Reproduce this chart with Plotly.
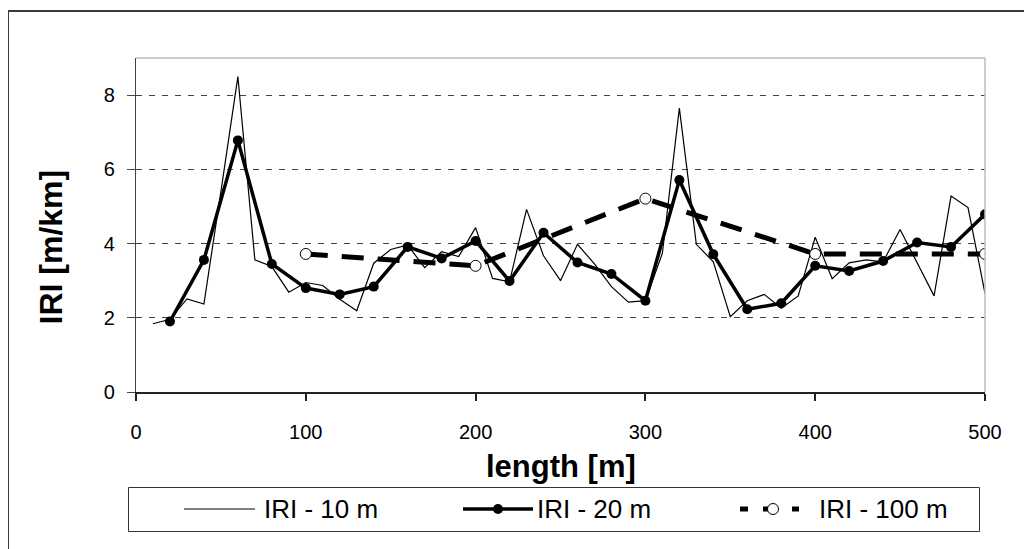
import plotly.graph_objects as go

# ---------------- data ----------------
dist_10 = list(range(10, 510, 10))
iri_10 = [1.84, 1.96, 2.51, 2.37, 5.40, 8.50, 3.56, 3.38, 2.69, 2.95,
          2.87, 2.50, 2.19, 3.47, 3.84, 3.96, 3.35, 3.78, 3.65, 4.43,
          3.06, 2.97, 4.92, 3.67, 3.00, 3.98, 3.45, 2.84, 2.42, 2.46,
          3.74, 7.65, 3.98, 3.51, 2.03, 2.46, 2.63, 2.26, 2.59, 4.17,
          3.05, 3.48, 3.56, 3.51, 4.38, 3.50, 2.59, 5.28, 4.97, 2.66]

dist_20 = list(range(20, 520, 20))
iri_20 = [1.90, 3.56, 6.78, 3.45, 2.80, 2.63, 2.84, 3.91, 3.60, 4.07,
          2.99, 4.29, 3.49, 3.18, 2.46, 5.71, 3.71, 2.23, 2.39, 3.40,
          3.26, 3.53, 4.03, 3.91, 4.79]

dist_100 = [100, 200, 300, 400, 500]
iri_100 = [3.72, 3.40, 5.21, 3.72, 3.72]

series_names = ["IRI - 10 m", "IRI - 20 m", "IRI - 100 m"]
x_ticks = [0, 100, 200, 300, 400, 500]
y_ticks = [0, 2, 4, 6, 8]
x_title = "length [m]"
y_title = "IRI [m/km]"

FONT = "Liberation Sans, Arial, Helvetica, sans-serif"

# ---------------- geometry ----------------
# the page body adds an 8px offset; screen coords below are those of the window
OFF = 8
FIG_W, FIG_H = 1032 - OFF, 549 - OFF
SL, ST, W, H = 136, 58, 849, 334          # plot area in screen pixels
L, T = SL - OFF, ST - OFF                 # plot area in figure pixels


def px(x):
    return (x - SL) / W


def py(y):
    return (ST + H - y) / H


fig = go.Figure()

fig.add_trace(go.Scatter(x=dist_10, y=iri_10, mode="lines", name=series_names[0],
                         line=dict(color="black", width=1.2), showlegend=False))
fig.add_trace(go.Scatter(x=dist_20, y=iri_20, mode="lines+markers", name=series_names[1],
                         line=dict(color="black", width=3.5),
                         marker=dict(color="black", size=10, symbol="circle"),
                         showlegend=False))
fig.add_trace(go.Scatter(x=dist_100, y=iri_100, mode="lines+markers", name=series_names[2],
                         line=dict(color="black", width=5, dash="22px,14px"),
                         marker=dict(color="white", size=11, symbol="circle",
                                     line=dict(color="black", width=1)),
                         showlegend=False))

shapes = []
# outer chart-area border (top and left visible only)
shapes.append(dict(type="line", xref="paper", yref="paper",
                   x0=px(8), x1=px(1045), y0=py(11), y1=py(11),
                   line=dict(color="#3a3a3a", width=2)))
shapes.append(dict(type="line", xref="paper", yref="paper",
                   x0=px(8), x1=px(8), y0=py(11), y1=py(560),
                   line=dict(color="#3a3a3a", width=2)))
# plot-area light border (top and right)
shapes.append(dict(type="line", xref="paper", yref="paper",
                   x0=0, x1=1, y0=1, y1=1,
                   line=dict(color="#bdbdbd", width=1.5)))
shapes.append(dict(type="line", xref="paper", yref="paper",
                   x0=1, x1=1, y0=0, y1=1,
                   line=dict(color="#bdbdbd", width=1.5)))

# custom legend
LEG_Y = 509
shapes.append(dict(type="rect", xref="paper", yref="paper",
                   x0=px(128.5), x1=px(979.5), y0=py(531.5), y1=py(487.5),
                   line=dict(color="#333333", width=1)))
shapes.append(dict(type="line", xref="paper", yref="paper",
                   x0=px(184), x1=px(255), y0=py(LEG_Y), y1=py(LEG_Y),
                   line=dict(color="black", width=1.2)))
shapes.append(dict(type="line", xref="paper", yref="paper",
                   x0=px(463), x1=px(533), y0=py(LEG_Y), y1=py(LEG_Y),
                   line=dict(color="black", width=3.5)))
shapes.append(dict(type="circle", xref="paper", yref="paper",
                   xsizemode="pixel", ysizemode="pixel",
                   xanchor=px(498), yanchor=py(LEG_Y),
                   x0=-5, x1=5, y0=-5, y1=5,
                   fillcolor="black", line=dict(color="black", width=0)))
for a, b in [(740, 748), (763, 768), (792, 799)]:
    shapes.append(dict(type="line", xref="paper", yref="paper",
                       x0=px(a), x1=px(b), y0=py(LEG_Y), y1=py(LEG_Y),
                       line=dict(color="black", width=5)))
shapes.append(dict(type="circle", xref="paper", yref="paper",
                   xsizemode="pixel", ysizemode="pixel",
                   xanchor=px(773), yanchor=py(LEG_Y),
                   x0=-5.5, x1=5.5, y0=-5.5, y1=5.5,
                   fillcolor="white", line=dict(color="black", width=1)))

annotations = []
for name, xl in zip(series_names, [263, 536, 818]):
    annotations.append(dict(text=name, xref="paper", yref="paper",
                            x=px(xl), y=py(LEG_Y), xanchor="left", yanchor="middle",
                            showarrow=False, borderpad=0,
                            font=dict(family=FONT, size=26, color="black")))
annotations.append(dict(text="<b>" + x_title + "</b>", xref="paper", yref="paper",
                        x=px(561), y=py(466), xanchor="center", yanchor="middle",
                        showarrow=False, font=dict(family=FONT, size=31, color="black")))
annotations.append(dict(text="<b>" + y_title + "</b>", xref="paper", yref="paper",
                        x=px(51), y=py(247.5), xanchor="center", yanchor="middle",
                        textangle=-90, showarrow=False,
                        font=dict(family=FONT, size=32, color="black")))

fig.update_layout(
    width=FIG_W, height=FIG_H,
    margin=dict(l=L, r=FIG_W - L - W, t=T, b=FIG_H - T - H, pad=0),
    paper_bgcolor="white", plot_bgcolor="white",
    shapes=shapes, annotations=annotations,
    showlegend=False,
    font=dict(family=FONT, color="black"),
)
fig.update_xaxes(range=[0, 500], tickvals=x_ticks, ticktext=[str(v) for v in x_ticks],
                 showgrid=False, zeroline=False,
                 showline=True, linecolor="#222222", linewidth=2,
                 ticks="outside", ticklen=7, tickwidth=1.5, tickcolor="#222222",
                 ticklabelstandoff=14,
                 tickfont=dict(family=FONT, size=20, color="black"))
fig.update_yaxes(range=[0, 9], tickvals=y_ticks, ticktext=[str(v) for v in y_ticks],
                 showgrid=True, gridcolor="#444444", gridwidth=1, griddash="6px,7px",
                 zeroline=False,
                 showline=True, linecolor="#444444", linewidth=1.3,
                 ticks="outside", ticklen=8, tickwidth=1, tickcolor="#444444",
                 ticklabelstandoff=8,
                 tickfont=dict(family=FONT, size=20, color="black"))

fig.write_html("out.html")
